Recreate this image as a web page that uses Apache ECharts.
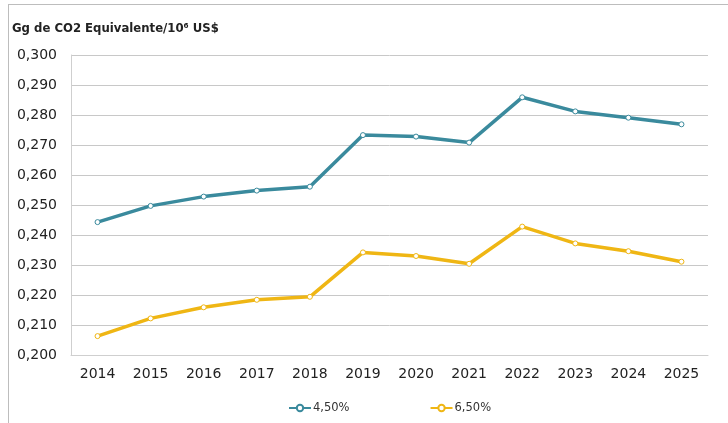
<!DOCTYPE html>
<html>
<head>
<meta charset="utf-8">
<script src="https://cdn.jsdelivr.net/npm/echarts@6/dist/echarts.min.js"></script>
<style>html,body{margin:0;padding:0;background:#fff}#c{width:728px;height:423px}</style>
</head>
<body>
<div id="c"></div>
<script>
var categories = ['2014','2015','2016','2017','2018','2019','2020','2021','2022','2023','2024','2025'];
var series45 = [0.2443,0.2497,0.2528,0.2548,0.2561,0.2733,0.2728,0.2708,0.2859,0.2812,0.2791,0.2769];
var series65 = [0.2063,0.2122,0.2159,0.2184,0.2194,0.2342,0.2330,0.2304,0.2428,0.2372,0.2346,0.2311];
var seriesNames = ['4,50%','6,50%'];
var yTitle = 'Gg de CO2 Equivalente/10\u2076 US$';

var chart = echarts.init(document.getElementById('c'), null, {renderer:'canvas'});
var font = 'DejaVu Sans';
chart.setOption({
  animation: false,
  backgroundColor: '#fff',
  textStyle: {fontFamily: font},
  title: {
    text: yTitle, left: 7, top: 18,
    textStyle: {fontSize: 11.7, fontWeight: 'bold', color: '#222', fontFamily: font}
  },
  graphic: [
    {type:'line', shape:{x1:8,y1:4.5,x2:728,y2:4.5}, style:{stroke:'#bdbdbd', lineWidth:1}},
    {type:'line', shape:{x1:8.5,y1:4,x2:8.5,y2:423}, style:{stroke:'#bdbdbd', lineWidth:1}}
  ],
  legend: {
    top: 397, left: 283, itemGap: 80, itemWidth: 22, itemHeight: 8,
    textStyle: {fontSize: 11.5, color: '#333', fontFamily: font, padding: [0,0,0,-3]},
    data: seriesNames
  },
  grid: {left: 71, right: 20, top: 55, bottom: 68},
  xAxis: {
    type: 'category', data: categories, boundaryGap: true,
    axisLine: {lineStyle: {color: '#cfcfcf'}},
    axisTick: {show: false},
    axisLabel: {fontSize: 14, color: '#222', margin: 12, fontFamily: font}
  },
  yAxis: {
    type: 'value', min: 0.2, max: 0.3, interval: 0.01,
    axisLine: {show: true, lineStyle: {color: '#cfcfcf'}},
    axisTick: {show: false},
    splitLine: {lineStyle: {color: '#c8c8c8'}},
    axisLabel: {fontSize: 14, color: '#222', margin: 14, fontFamily: font,
      formatter: function(v){ return v.toFixed(3).replace('.', ','); }}
  },
  series: [
    {name: seriesNames[0], type: 'line', data: series45, symbol: 'circle', symbolSize: 5,
     lineStyle: {color: '#3a8a9d', width: 3.5}, itemStyle: {color: '#fff', borderColor: '#3a8a9d', borderWidth: 1}},
    {name: seriesNames[1], type: 'line', data: series65, symbol: 'circle', symbolSize: 5,
     lineStyle: {color: '#efb614', width: 3.5}, itemStyle: {color: '#fff', borderColor: '#efb614', borderWidth: 1}}
  ]
});
</script>
</body>
</html>
